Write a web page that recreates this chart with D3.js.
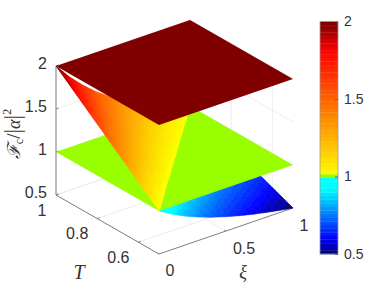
<!DOCTYPE html>
<html><head><meta charset="utf-8">
<script src="https://cdn.jsdelivr.net/npm/d3@7"></script>
<style>html,body{margin:0;padding:0;background:#fff}svg{display:block}text{font-family:"Liberation Sans",Arial,sans-serif;fill:#333}.m{font-family:"Liberation Serif",serif;font-style:italic}</style>
</head><body><svg id="c" width="382" height="286"></svg>
<script>
// Data
const xiValues=[0,.1,.2,.3,.4,.5,.6,.7,.8,.9,1];
const tValues=[.5,.55,.6,.65,.7,.75,.8,.85,.9,.95,1];
const surfaceZ=[
[1.00,.909,.833,.769,.714,.667,.625,.588,.556,.526,.500],
[1.10,1.00,.917,.846,.786,.733,.688,.647,.611,.579,.550],
[1.20,1.09,1.00,.923,.857,.800,.750,.706,.667,.632,.600],
[1.30,1.18,1.08,1.00,.929,.867,.813,.765,.722,.684,.650],
[1.40,1.27,1.17,1.08,1.00,.933,.875,.824,.778,.737,.700],
[1.50,1.36,1.25,1.15,1.07,1.00,.938,.882,.833,.789,.750],
[1.60,1.45,1.33,1.23,1.14,1.07,1.00,.941,.889,.842,.800],
[1.70,1.55,1.42,1.31,1.21,1.13,1.06,1.00,.944,.895,.850],
[1.80,1.64,1.50,1.38,1.29,1.20,1.13,1.06,1.00,.947,.900],
[1.90,1.73,1.58,1.46,1.36,1.27,1.19,1.12,1.06,1.00,.950],
[2.00,1.82,1.67,1.54,1.43,1.33,1.25,1.18,1.11,1.05,1.00]];
const planeLow=1, planeHigh=2;
const zTicks=[.5,1,1.5,2], xiTicks=[0,.5,1], tTicks=[.6,.8,1];
const cmapStops=[.5,.59,.915,1,1,1.82,2];
const cmapColors=["#000080","#0000ff","#00ffff","#00ffff","#ffff00","#ff0000","#800000"];
const levels=64;
// label offsets from each tick's anchor, as [dx,dy]
const zLabelOffset=[-9,-2.5];
const tLabelOffsets=new Map([[.6,[-20,15]],[.8,[-20,15]],[1,[-14,15]]]);
const xiLabelOffsets=new Map([[0,[11,16]],[.5,[18,17]],[1,[11,17]]]);

const svg=d3.select("#c");
const sxiX=d3.scaleLinear([0,1],[0,134]), sxiY=d3.scaleLinear([0,1],[0,-46]);
const stX=d3.scaleLinear([.5,1],[0,-103]), stY=d3.scaleLinear([.5,1],[0,-59]);
const szY=d3.scaleLinear([.5,2],[0,-129]);
const ox=159, oy=254;
const P=(xi,t,z)=>[ox+sxiX(xi)+stX(t), oy+sxiY(xi)+stY(t)+szY(z)];
const jet=d3.scaleLinear(cmapStops,cmapColors).interpolate(d3.interpolateRgb).clamp(true);
const levelOf=z=>Math.min(levels-1,Math.max(0,Math.floor((z-.5)/1.5*levels)));
const greenLevel=levelOf(1);
const levelColor=l=> l===greenLevel?"#99ff00":jet(.5+l/(levels-1)*1.5);
function surfColor(z){const l=levelOf(z);
  if(l===greenLevel) return z>=1?"#ffff00":"#00ffff";
  return levelColor(l);}
const line=d3.line();

// grid
const grid=svg.append("g").attr("stroke","#e8e8e8").attr("stroke-width",.8).attr("fill","none");
const seg=(g,a,b)=>g.append("path").attr("d",line([a,b]));
zTicks.forEach(z=>{seg(grid,P(0,1,z),P(1,1,z));seg(grid,P(1,1,z),P(1,.5,z));});
xiTicks.forEach(x=>{seg(grid,P(x,.5,.5),P(x,1,.5));seg(grid,P(x,1,.5),P(x,1,2));});
tTicks.forEach(t=>{seg(grid,P(0,t,.5),P(1,t,.5));seg(grid,P(1,t,.5),P(1,t,2));});

// axes
const ax=svg.append("g").attr("stroke","#808080").attr("stroke-width",1).attr("fill","none");
seg(ax,P(0,1,.5),P(0,1,2));
seg(ax,P(0,1,.5),P(0,.5,.5));
seg(ax,P(0,.5,.5),P(1,.5,.5));
zTicks.forEach(z=>{const p=P(0,1,z);seg(ax,p,[p[0]+2.5,p[1]-.9]);});
tTicks.forEach(t=>{const p=P(0,t,.5);seg(ax,p,[p[0]+2.5,p[1]-.9]);});
xiTicks.forEach(x=>{const p=P(x,.5,.5);seg(ax,p,[p[0]-1.5,p[1]-.9]);});

// surface split at the z=1 plane
function clip(poly,keep){const out=[];
  poly.forEach((a,i)=>{const b=poly[(i+1)%poly.length];
    const ka=keep(a[2]),kb=keep(b[2]);
    if(ka) out.push(a);
    if(ka!==kb){const f=(1-a[2])/(b[2]-a[2]);out.push([a[0]+f*(b[0]-a[0]),a[1]+f*(b[1]-a[1]),1]);}
  });return out;}
const sub=6, lower=[], upper=[];
function val(i,j,u,v){
  return d3.interpolateNumber(d3.interpolateNumber(surfaceZ[j][i],surfaceZ[j][i+1])(u),
                              d3.interpolateNumber(surfaceZ[j+1][i],surfaceZ[j+1][i+1])(u))(v);}
for(let j=tValues.length-2;j>=0;j--)for(let i=xiValues.length-2;i>=0;i--){
  const dx=xiValues[i+1]-xiValues[i],dt=tValues[j+1]-tValues[j];
  for(let b=sub-1;b>=0;b--)for(let a=sub-1;a>=0;a--){
    const corner=(p,q)=>[xiValues[i]+dx*p/sub,tValues[j]+dt*q/sub,val(i,j,p/sub,q/sub)];
    const q=[corner(a,b),corner(a+1,b),corner(a+1,b+1),corner(a,b+1)];
    const lo=clip(q,z=>z<1),hi=clip(q,z=>z>=1);
    if(lo.length>2)lower.push(lo);
    if(hi.length>2)upper.push(hi);
  }}
function drawCells(cells,name){
  svg.append("g").attr("class",name).selectAll("path").data(cells).join("path")
   .attr("d",c=>line(c.map(p=>P(p[0],p[1],p[2])))+"Z")
   .each(function(c){const col=surfColor(d3.mean(c,p=>p[2]));
     d3.select(this).attr("fill",col).attr("stroke",col).attr("stroke-width",.6);});}
function plane(z,col){
  svg.append("path").attr("d",line([P(0,.5,z),P(1,.5,z),P(1,1,z),P(0,1,z)])+"Z").attr("fill",col);}
drawCells(lower,"lower");
plane(planeLow,levelColor(levelOf(planeLow)));
drawCells(upper,"upper");
plane(planeHigh,levelColor(levelOf(planeHigh)));

// tick labels
const tl=(x,y,s,anchor)=>svg.append("text").attr("x",x).attr("y",y).attr("text-anchor",anchor||"middle")
  .attr("dominant-baseline","central").attr("font-size",16).text(s);
const zLabel=d3.format("");
zTicks.forEach(z=>{const p=P(0,1,z);tl(p[0]+zLabelOffset[0],p[1]+zLabelOffset[1],zLabel(z),"end");});
tTicks.forEach(t=>{const p=P(0,t,.5),o=tLabelOffsets.get(t);tl(p[0]+o[0],p[1]+o[1],zLabel(t));});
xiTicks.forEach(x=>{const p=P(x,.5,.5),o=xiLabelOffsets.get(x);tl(p[0]+o[0],p[1]+o[1],zLabel(x));});

// axis titles
svg.append("text").attr("class","m").attr("x",79).attr("y",272).attr("text-anchor","middle").attr("dominant-baseline","central").attr("font-size",20).text("T");
svg.append("text").attr("class","m").attr("x",243).attr("y",272).attr("text-anchor","middle").attr("dominant-baseline","central").attr("font-size",18).text("ξ");
const yl=svg.append("text").attr("transform","translate(20,134) rotate(-90)").attr("text-anchor","middle").attr("font-size",18).style("font-family","'Liberation Serif',serif");
yl.append("tspan").style("font-style","italic").attr("font-size",18).text("ℱ");
yl.append("tspan").attr("font-size",12).attr("dy",3).text("c");
yl.append("tspan").attr("dy",-3).attr("font-size",19).text("/");
yl.append("tspan").attr("font-size",23).text("|");
yl.append("tspan").style("font-style","italic").attr("font-size",18).text("α");
yl.append("tspan").attr("font-size",23).text("|");
yl.append("tspan").attr("font-size",12).attr("dy",-9).text("2");

// colorbar
const cb=d3.scaleLinear([.5,2],[254,21.5]);
const bar=svg.append("g");
bar.selectAll("rect").data(d3.range(levels)).join("rect")
  .attr("x",320).attr("width",18)
  .attr("y",l=>cb(.5+(l+1)/levels*1.5))
  .attr("height",l=>cb(.5+l/levels*1.5)-cb(.5+(l+1)/levels*1.5)+.3)
  .attr("fill",levelColor);
bar.append("rect").attr("x",320).attr("y",21.5).attr("width",18).attr("height",232.5).attr("fill","none").attr("stroke","#999").attr("stroke-width",.8);
const cbAxis=d3.axisRight(cb).tickValues(zTicks).tickSize(-3).tickPadding(6).tickFormat(zLabel);
const cbg=svg.append("g").attr("transform","translate(338,0)").call(cbAxis);
cbg.select(".domain").remove();
cbg.selectAll("line").attr("stroke","#666");
cbg.selectAll("text").style("font-size","14px").style("font-family","'Liberation Sans',Arial,sans-serif").style("fill","#333");
</script></body></html>
